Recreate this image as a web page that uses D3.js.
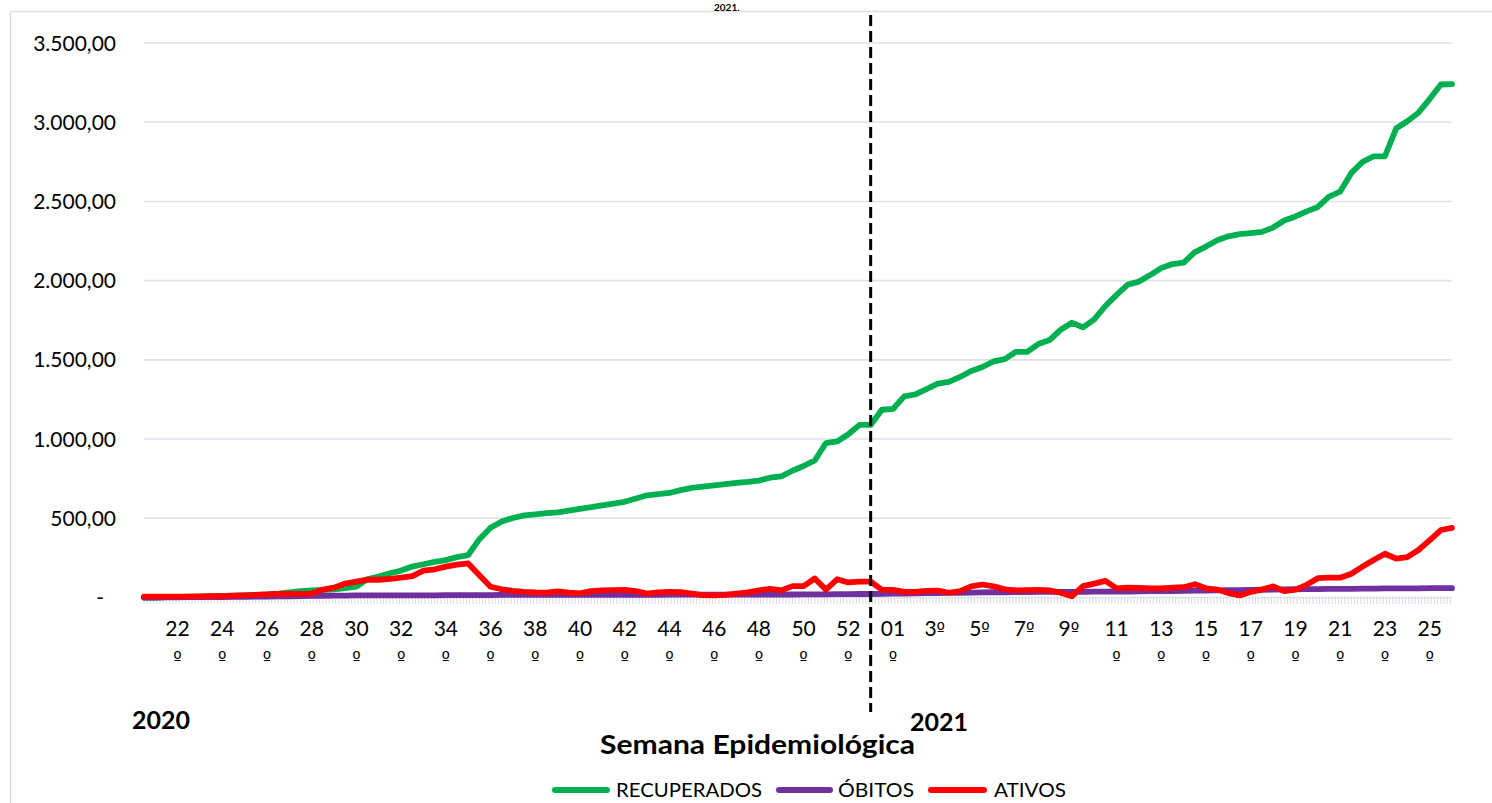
<!DOCTYPE html>
<html><head><meta charset="utf-8">
<script src="https://cdn.jsdelivr.net/npm/d3@7"></script>
<style>body{margin:0;background:#fff}svg{display:block}</style>
</head><body>
<svg id="chart" width="1492" height="803"></svg>
<script>
// ---- data (half-week samples, 2020 week 21 -> 2021 week 26) ----
const weekLabels = ["22º","24º","26º","28º","30º","32º","34º","36º","38º","40º","42º","44º","46º","48º","50º","52º","01º","3º","5º","7º","9º","11º","13º","15º","17º","19º","21º","23º","25º"];
const yTickValues = [0,500,1000,1500,2000,2500,3000,3500];
const yTickLabels = ["-","500,00","1.000,00","1.500,00","2.000,00","2.500,00","3.000,00","3.500,00"];
const seriesNames = ["RECUPERADOS","ÓBITOS","ATIVOS"];
const yearLabels = ["2020","2021"];

const recuperados = [0,0,2,3,5,6,8,10,12,14,
 17,20,25,32,40,45,48,52,60,68,
 116,132,153,170,195,210,225,236,255,268,
 368,440,480,502,518,525,532,538,548,560,
 570,582,592,604,625,645,652,660,678,692,
 700,708,716,724,730,738,756,765,800,830,
 865,975,985,1030,1089,1089,1185,1190,1270,1282,
 1315,1350,1361,1392,1430,1455,1490,1505,1551,1551,
 1600,1625,1690,1734,1705,1755,1840,1910,1975,1994,
 2035,2080,2105,2114,2180,2215,2255,2280,2293,2300,
 2308,2335,2380,2405,2437,2465,2530,2562,2680,2750,
 2785,2785,2960,3006,3060,3146,3238,3240];

const obitos = [0,0,1,1,2,2,3,3,4,4,
 5,6,7,8,9,10,11,12,12,13,
 13,13,13,14,14,14,14,15,15,15,
 15,15,16,16,16,16,16,16,17,17,
 17,17,17,17,17,17,17,18,18,18,
 18,18,18,18,18,19,19,19,19,20,
 20,20,21,21,22,22,23,24,25,26,
 27,28,29,30,31,32,33,33,34,34,
 35,35,36,36,36,37,37,38,38,39,
 40,40,41,42,43,44,45,46,47,48,
 49,50,51,52,53,53,54,55,55,56,
 56,57,57,58,58,59,59,59];

const ativos = [5,5,5,6,6,7,8,9,12,14,
 16,20,22,23,23,25,50,62,88,100,
 113,112,118,125,135,170,178,195,208,215,
 140,68,52,42,36,32,30,38,30,26,
 40,45,47,48,40,25,32,36,34,25,
 15,14,16,25,32,45,55,45,72,72,
 120,50,115,95,100,100,49,48,35,35,
 42,44,30,40,70,82,70,52,45,46,
 48,45,30,8,72,88,105,58,62,60,
 58,58,62,65,84,58,50,28,13,35,
 50,70,40,50,80,122,125,125,150,195,
 236,276,245,255,300,361,426,439];

const colors = ["#00B050","#7030A0","#FF0000"];

// ---- drawing ----
const svg = d3.select("#chart");
svg.append("rect").attr("width",1492).attr("height",803).attr("fill","#fff");
svg.append("rect").attr("x",10.5).attr("y",11.5).attr("width",1500).attr("height",800)
  .attr("fill","none").attr("stroke","#d9dde3").attr("stroke-width",1.5);

const x = d3.scaleLinear().domain([0,117]).range([144,1452]);
const y = d3.scaleLinear().domain([0,3500]).range([597.5,43]);

// gridlines
svg.append("g").selectAll("line").data(yTickValues).join("line")
  .attr("x1",x(0)).attr("x2",x(117))
  .attr("y1",d=>y(d)).attr("y2",d=>y(d))
  .attr("stroke","#dde1e8").attr("stroke-width",1.6);

// dense category ticks
svg.append("g").selectAll("line").data(d3.range(0,117.001,2/7)).join("line")
  .attr("x1",d=>x(d)).attr("x2",d=>x(d))
  .attr("y1",598).attr("y2",604)
  .attr("stroke","#d3d9e2").attr("stroke-width",1);

// y labels
svg.append("g").selectAll("text").data(yTickValues).join("text")
  .attr("x",(d,i)=>i===0?104:116)
  .attr("y",d=>y(d)).attr("dy","0.36em")
  .attr("text-anchor","end")
  .attr("font-family","Lato, sans-serif").attr("font-size",21).attr("fill","#000")
  .text((d,i)=>yTickLabels[i]);

// x labels
const xl = svg.append("g").attr("font-family","Lato, sans-serif").attr("font-size",21).attr("fill","#000");
const ordFont = "'DejaVu Sans'";
weekLabels.forEach((lab,i)=>{
  const cx = x(3+4*i);
  const digits = lab.replace("º","");
  const t = xl.append("text").attr("text-anchor","middle");
  if(digits.length>=2){
    t.append("tspan").attr("x",cx).attr("y",636).text(digits);
    t.append("tspan").attr("x",cx).attr("y",665).attr("font-family",ordFont).attr("font-size",18).text("º");
  } else {
    t.append("tspan").attr("x",cx-3).attr("y",636).text(digits);
    t.append("tspan").attr("font-family",ordFont).attr("font-size",18).text("º");
  }
});

// series lines
const line = d3.line().x((d,i)=>x(i)).y(d=>y(d));
[recuperados,obitos,ativos].forEach((s,k)=>{
  svg.append("path").datum(s).attr("d",line)
    .attr("fill","none").attr("stroke",colors[k]).attr("stroke-width",5.8)
    .attr("stroke-linejoin","round").attr("stroke-linecap","round");
});

// year divider
svg.append("line").attr("x1",x(65)).attr("x2",x(65)).attr("y1",15).attr("y2",712)
  .attr("stroke","#000").attr("stroke-width",3).attr("stroke-dasharray","11,5");

// year labels & axis title
svg.append("text").attr("x",132).attr("y",729).attr("font-family","Lato, sans-serif")
  .attr("font-weight","bold").attr("font-size",25).text(yearLabels[0]);
svg.append("text").attr("x",910).attr("y",731).attr("font-family","Lato, sans-serif")
  .attr("font-weight","bold").attr("font-size",25).text(yearLabels[1]);
svg.append("text").attr("x",600).attr("y",754).attr("font-family","Lato, sans-serif")
  .attr("font-weight","bold").attr("font-size",26)
  .attr("textLength",315).attr("lengthAdjust","spacingAndGlyphs")
  .text("Semana Epidemiológica");
// title fragment at the top edge
svg.append("text").attr("x",714).attr("y",10.5).attr("font-family","Lato, sans-serif")
  .attr("font-weight","bold").attr("font-size",10).text("2021.");

// legend
const legend = [
  {x1:555,x2:607,tx:616,tw:146},
  {x1:779,x2:830,tx:838,tw:76},
  {x1:931,x2:984,tx:994,tw:72}
];
legend.forEach((l,k)=>{
  svg.append("line").attr("x1",l.x1).attr("x2",l.x2).attr("y1",790).attr("y2",790)
    .attr("stroke",colors[k]).attr("stroke-width",6).attr("stroke-linecap","round");
  svg.append("text").attr("x",l.tx).attr("y",797).attr("font-family","Lato, sans-serif")
    .attr("font-size",19).attr("textLength",l.tw).attr("lengthAdjust","spacingAndGlyphs")
    .text(seriesNames[k]);
});
</script>
</body></html>
